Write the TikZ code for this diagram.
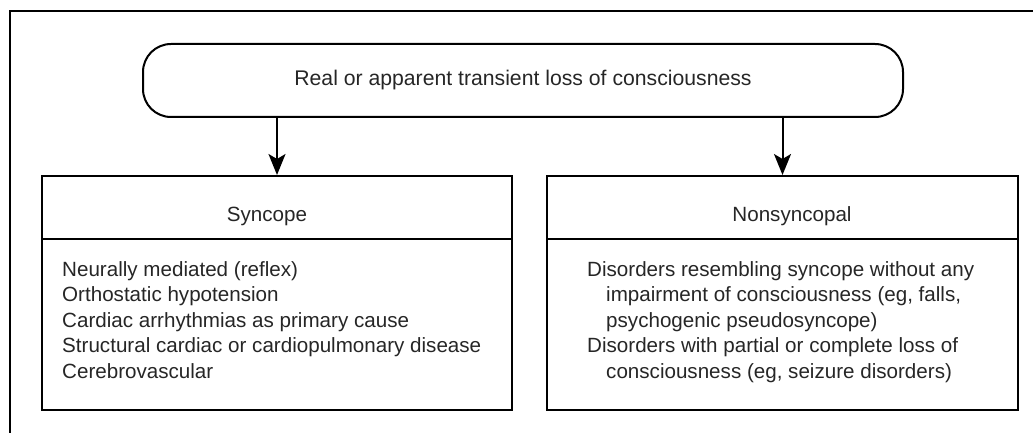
\documentclass[tikz,border=0pt]{standalone}
\usepackage{fontspec}
\setmainfont{Liberation Sans}
\usetikzlibrary{arrows.meta}
\begin{document}
\begin{tikzpicture}[x=1pt,y=-1pt,
  box/.style={draw, line width=2pt, inner sep=0pt},
  txt/.style={inner sep=0pt, font=\fontsize{20.6}{25.5}\selectfont, text=black!85},
  arr/.style={line width=2pt, -{Stealth[length=21pt,width=17pt,inset=5pt]}}]
\useasboundingbox (0,0) rectangle (1033,433);
% frame
\draw[line width=1.8pt] (10,433) -- (10,11) -- (1033,11);
% top
\node[box, txt, font=\fontsize{21.2}{25.5}\selectfont, rounded corners=28pt, minimum width=760pt, minimum height=73pt] (loss) at (523,80.5) {Real or apparent transient loss of consciousness};
% left
\node[box, minimum width=470pt, minimum height=63pt] (synhead) at (277,207.5) {};
\node[box, minimum width=470pt, minimum height=171pt] (synbody) at (277,324.5) {};
\node[txt, anchor=base] (syntitle) at (267,221) {Syncope};
\node[txt, anchor=north west, align=left] (synlist) at (62,261) {Neurally mediated (reflex)\\Orthostatic hypotension\\Cardiac arrhythmias as primary cause\\Structural cardiac or cardiopulmonary disease\\Cerebrovascular};
% right
\node[box, minimum width=471pt, minimum height=63pt] (nonhead) at (782.5,207.5) {};
\node[box, minimum width=471pt, minimum height=171pt] (nonbody) at (782.5,324.5) {};
\node[txt, anchor=base] (nontitle) at (792,221) {Nonsyncopal};
\node[txt, anchor=north west, align=left] (nonlist) at (587,261) {Disorders resembling syncope without any\\\hspace*{19pt}impairment of consciousness (eg, falls,\\\hspace*{19pt}psychogenic pseudosyncope)\\Disorders with partial or complete loss of\\\hspace*{19pt}consciousness (eg, seizure disorders)};
% arrows
\draw[arr] (loss.south -| synhead.north) -- (synhead.north);
\draw[arr] (loss.south -| nonhead.north) -- (nonhead.north);
\end{tikzpicture}
\end{document}
